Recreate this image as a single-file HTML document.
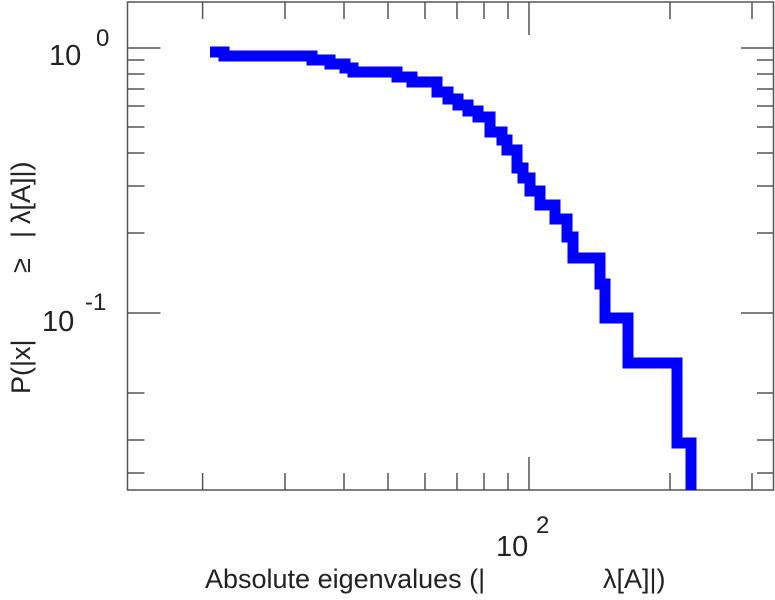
<!DOCTYPE html>
<html><head><meta charset="utf-8"><style>
html,body{margin:0;padding:0;background:#fff;}
svg{display:block;font-family:"Liberation Sans","DejaVu Sans",sans-serif;fill:#222;}
</style></head><body>
<svg width="775" height="600" viewBox="0 0 775 600" xmlns="http://www.w3.org/2000/svg">
<g stroke="#555" stroke-width="1.5" fill="none">
<rect x="127.5" y="2" width="646" height="488"/>
<path d="M202.6,490v-17M285,490v-17M344,490v-17M388,490v-17M425,490v-17M457,490v-17M484,490v-17M508,490v-17M529,490v-33M670,490v-17M752,490v-17
M202.6,2v17M285,2v17M344,2v17M388,2v17M425,2v17M457,2v17M484,2v17M508,2v17M529,2v33M670,2v17M752,2v17"/>
<path d="M127.5,48h33M127.5,313h33M127.5,60h17M127.5,74h17M127.5,89h17M127.5,106h17M127.5,127h17M127.5,153h17M127.5,186h17M127.5,233h17M127.5,393h17M127.5,440h17M127.5,473h17
M774,48h-33M774,313h-33M774,60h-17M774,74h-17M774,89h-17M774,106h-17M774,127h-17M774,153h-17M774,186h-17M774,233h-17M774,393h-17M774,440h-17M774,473h-17"/>
</g>
<path fill="none" stroke="#0000ff" stroke-width="11" stroke-linejoin="miter" d="M210,52 H224 V56 H312 V60 H330 V64 H345 V68 H353 V72 H397 V77 H412 V82 H437 V92 H448 V99 H458 V105 H468 V111 H478 V117 H490 V132 H502 V140 H507 V150 H517 V168 H523 V178 H530 V191 H540 V205 H555 V219 H567 V237 H573 V258 H600 V284 H605 V318 H628 V363 H677 V443 H691 V490"/>
<text x="49" y="65" font-size="29">10</text><text x="96" y="46" font-size="24">0</text>
<text x="42" y="331" font-size="29">10</text><text x="85" y="310" font-size="24">-1</text>
<text x="496" y="556" font-size="29">10</text><text x="536" y="533" font-size="24">2</text>
<text x="205" y="588" font-size="27">Absolute eigenvalues (|</text>
<text x="603" y="588" font-size="27">λ[A]|)</text>
<g transform="translate(30,400) rotate(-90)" font-size="27">
<text x="6" y="0">P(|x|</text>
<text x="127" y="0">≥</text>
<text x="162" y="0">|</text>
<text x="176" y="0">λ[A]|)</text>
</g>
</svg>
</body></html>
